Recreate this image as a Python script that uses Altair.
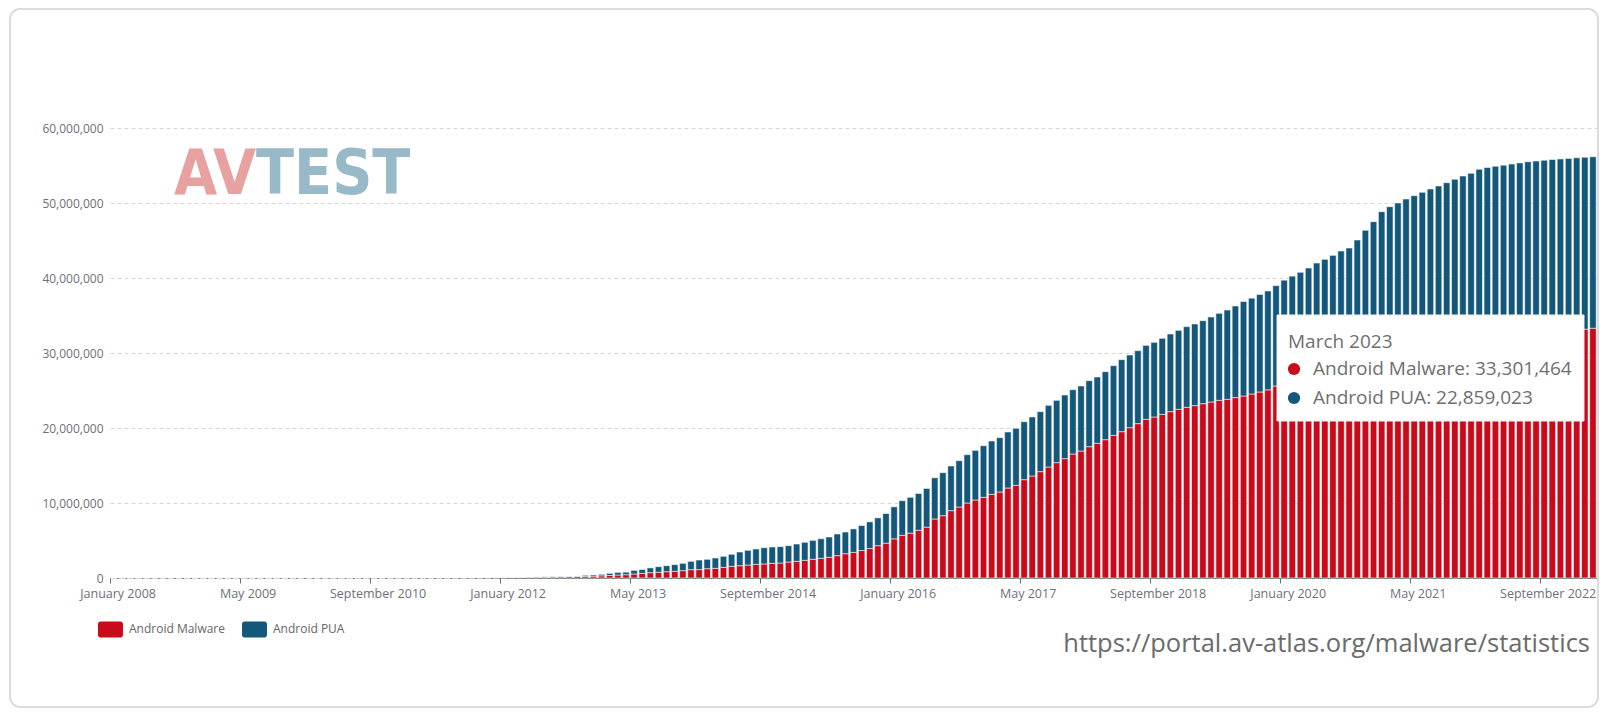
import altair as alt
import pandas as pd

MONTH_NAMES = ["January", "February", "March", "April", "May", "June", "July",
               "August", "September", "October", "November", "December"]
months = [f"{m} {y}" for y in range(2008, 2024) for m in MONTH_NAMES][:183]

axis_months = ["January 2008", "May 2009", "September 2010", "January 2012",
               "May 2013", "September 2014", "January 2016", "May 2017",
               "September 2018", "January 2020", "May 2021", "September 2022"]

series = ["Android Malware", "Android PUA"]
colors = ["#c90a1a", "#13577a"]

# Android Malware, cumulative (millions), Jan 2008 .. Mar 2023
malware_m = (
    [0] * 30
    + [0.001, 0.001, 0.002, 0.002, 0.003, 0.004, 0.005, 0.006, 0.008, 0.010,
       0.012, 0.015, 0.018, 0.021, 0.025, 0.030, 0.036, 0.042]
    + [0.05, 0.07, 0.09, 0.10, 0.12, 0.13, 0.15, 0.16, 0.18, 0.20]
    + [0.22, 0.25, 0.29, 0.33, 0.40, 0.44, 0.53, 0.62, 0.71, 0.76]
    + [0.84, 0.89, 0.98, 1.11, 1.12, 1.24, 1.29, 1.42, 1.56, 1.64]
    + [1.73, 1.82, 1.87, 1.96, 2.00, 2.13, 2.22, 2.36, 2.49, 2.62]
    + [2.76, 2.98, 3.24, 3.42, 3.66, 3.93, 4.31, 4.64, 5.22, 5.69]
    + [5.98, 6.36, 6.78, 7.87, 8.31, 8.98, 9.47, 10.0, 10.4, 10.76]
    + [11.16, 11.47, 12.0, 12.36, 13.11, 13.6, 14.18, 14.8, 15.38, 15.91]
    + [16.53, 16.93, 17.51, 17.96, 18.44, 19.02, 19.51, 20.04, 20.58, 21.16]
    + [21.47, 21.82, 22.18, 22.49, 22.76, 22.98, 23.24, 23.47, 23.69, 23.82]
    + [24.05, 24.27, 24.53, 24.80, 25.09, 25.6, 25.8, 26.05, 26.2, 26.45]
    + [26.6, 26.85, 27.0, 27.2, 27.45, 27.6, 27.9, 28.1, 28.4, 28.6]
    + [28.75, 29.0, 29.15, 29.4, 29.6, 29.75, 30.0, 30.2, 30.35, 30.6]
    + [30.8, 30.95, 31.2, 31.4, 31.55, 31.8, 32.0, 32.15, 32.4, 32.6]
    + [32.75, 32.9, 33.05, 33.18, 33.301464]
)

# Top of each stacked bar, Malware + PUA (millions)
total_m = (
    [0] * 30
    + [0.001, 0.001, 0.002, 0.002, 0.003, 0.004, 0.005, 0.006, 0.008, 0.010,
       0.012, 0.015, 0.018, 0.021, 0.025, 0.030, 0.036, 0.042]
    + [0.06, 0.08, 0.10, 0.12, 0.14, 0.16, 0.18, 0.20, 0.22, 0.26]
    + [0.36, 0.41, 0.49, 0.62, 0.75, 0.78, 1.02, 1.13, 1.35, 1.51]
    + [1.64, 1.78, 1.96, 2.22, 2.40, 2.49, 2.67, 2.89, 3.16, 3.47]
    + [3.69, 3.87, 4.04, 4.13, 4.18, 4.31, 4.53, 4.76, 5.02, 5.24]
    + [5.47, 5.87, 6.13, 6.55, 7.00, 7.49, 8.02, 8.60, 9.49, 10.31]
    + [10.76, 11.27, 11.94, 13.36, 14.04, 14.93, 15.64, 16.44, 17.02, 17.64]
    + [18.27, 18.71, 19.47, 19.96, 20.84, 21.47, 22.18, 23.02, 23.69, 24.4]
    + [25.11, 25.6, 26.31, 26.8, 27.51, 28.31, 29.11, 29.73, 30.31, 31.02]
    + [31.42, 31.96, 32.53, 33.02, 33.51, 33.87, 34.31, 34.8, 35.29, 35.73]
    + [36.27, 36.86, 37.31, 37.80, 38.27, 38.98, 39.71, 40.25, 40.76, 41.33]
    + [42.0, 42.49, 43.02, 43.6, 44.0, 45.07, 46.36, 47.51, 48.84, 49.51]
    + [50.0, 50.53, 50.98, 51.42, 51.87, 52.27, 52.71, 53.16, 53.6, 53.96]
    + [54.5, 54.75, 54.9, 55.05, 55.2, 55.35, 55.5, 55.6, 55.7, 55.8]
    + [55.88, 55.95, 56.03, 56.1, 56.160487]
)

rows = []
for i, m in enumerate(months):
    mal = malware_m[i] * 1e6
    pua = max(total_m[i] - malware_m[i], 0) * 1e6
    rows.append({"month": m, "series": series[0], "ord": 0, "value": mal})
    rows.append({"month": m, "series": series[1], "ord": 1, "value": pua})
df = pd.DataFrame(rows)

last_mal = int(round(malware_m[-1] * 1e6))
last_pua = int(round((total_m[-1] - malware_m[-1]) * 1e6))
tip = pd.DataFrame({
    "title": [months[-1]],
    "l1": [f"{series[0]}: {last_mal:,}"],
    "l2": [f"{series[1]}: {last_pua:,}"],
})
one = pd.DataFrame({"k": [0]})

RRECT = ("M-1.25,-1H1.25A0.3,0.3 0 0 1 1.56,-0.7V0.7A0.3,0.3 0 0 1 1.25,1"
         "H-1.25A0.3,0.3 0 0 1 -1.56,0.7V-0.7A0.3,0.3 0 0 1 -1.25,-1Z")

bars = alt.Chart(df).mark_bar(stroke="white", strokeOpacity=0.55, strokeWidth=1).encode(
    x=alt.X("month:N", sort=months,
            scale=alt.Scale(paddingInner=0.2, paddingOuter=0.1),
            axis=alt.Axis(values=axis_months, bandPosition=0, labelOffset=4, title=None,
                          labelAngle=0, grid=False, domainColor="#6e7079", tickColor="#6e7079",
                          tickSize=5, labelPadding=4, labelFontSize=12.5)),
    y=alt.Y("value:Q", stack="zero",
            scale=alt.Scale(domain=[0, 60000000], nice=False),
            axis=alt.Axis(values=list(range(0, 60000001, 10000000)), format=",.0f", title=None,
                          domain=False, ticks=False, tickSize=0, labelPadding=7,
                          grid=True, gridDash=[4, 3], gridColor="#d6d6d6", labelFontSize=12)),
    color=alt.Color("series:N", scale=alt.Scale(domain=series, range=colors),
                    legend=alt.Legend(orient="none", legendX=-7.5, legendY=493,
                                      direction="horizontal", title=None,
                                      symbolType=RRECT, symbolSize=256, symbolStrokeWidth=0,
                                      symbolOpacity=1,
                                      labelFont="Open Sans", labelFontSize=12,
                                      labelColor="#666666", labelOffset=10.5,
                                      columnPadding=16, padding=0)),
    order=alt.Order("ord:Q"),
)

border = alt.Chart(one).mark_rect(fillOpacity=0, stroke="#dcdcdc", strokeWidth=2,
                                  cornerRadius=10).encode(
    x=alt.value(-100), x2=alt.value(1488), y=alt.value(-119), y2=alt.value(579))

LOGO_FONT = "DejaVu Sans Condensed"
logo_av = alt.Chart(one).mark_text(font=LOGO_FONT, fontWeight="bold", fontSize=62,
                                   color="#e8a1a1", align="left", baseline="alphabetic").encode(
    x=alt.value(64), y=alt.value(66), text=alt.value("AV"))
logo_test = alt.Chart(one).mark_text(font=LOGO_FONT, fontWeight="bold", fontSize=62,
                                     color="#98b9c7", align="left", baseline="alphabetic").encode(
    x=alt.value(146), y=alt.value(66), text=alt.value("TEST"))

tip_box = alt.Chart(one).mark_rect(fill="white", stroke="#f0f0f0", strokeWidth=1).encode(
    x=alt.value(1167), x2=alt.value(1474), y=alt.value(187), y2=alt.value(293))

tip_text_style = dict(align="left", baseline="middle", font="Open Sans", fontSize=19,
                      color="#6f6f6f")
tip_title = alt.Chart(tip).mark_text(**tip_text_style).encode(
    x=alt.value(1178), y=alt.value(214), text="title:N")
tip_l1 = alt.Chart(tip).mark_text(**tip_text_style).encode(
    x=alt.value(1203), y=alt.value(241), text="l1:N")
tip_l2 = alt.Chart(tip).mark_text(**tip_text_style).encode(
    x=alt.value(1203), y=alt.value(270), text="l2:N")
dot1 = alt.Chart(one).mark_circle(size=150, opacity=1, color=colors[0]).encode(
    x=alt.value(1184), y=alt.value(241))
dot2 = alt.Chart(one).mark_circle(size=150, opacity=1, color=colors[1]).encode(
    x=alt.value(1184), y=alt.value(270))

url = alt.Chart(one).mark_text(align="right", baseline="alphabetic", font="Open Sans",
                               fontSize=25.5, color="#6b6b6b").encode(
    x=alt.value(1480), y=alt.value(524),
    text=alt.value("https://portal.av-atlas.org/malware/statistics"))

chart = alt.layer(
    border, bars, logo_av, logo_test, tip_box, dot1, dot2, tip_title, tip_l1, tip_l2, url
).properties(
    width=1487, height=450,
    autosize=alt.AutoSizeParams(type="none"),
    padding={"left": 102, "top": 120, "right": 5, "bottom": 132},
).configure_view(stroke=None).configure_axis(
    labelFont="Open Sans", labelColor="#6e7079"
)

chart.save("out.html", embed_options={"renderer": "svg", "actions": False})
